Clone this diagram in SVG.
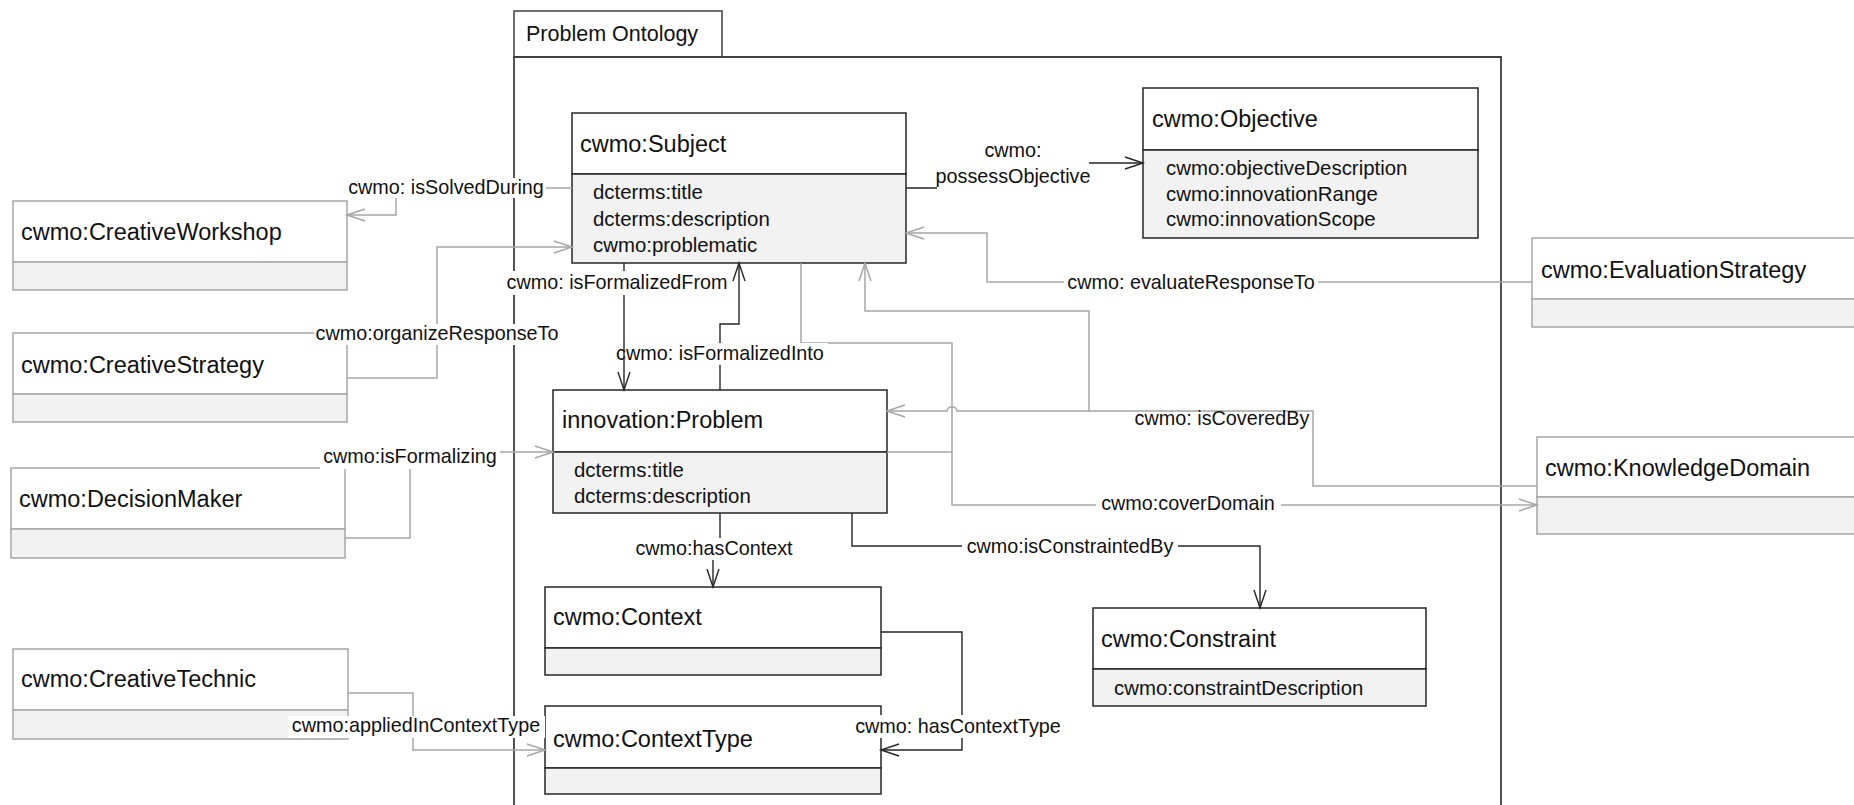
<svg xmlns="http://www.w3.org/2000/svg" width="1854" height="805" viewBox="0 0 1854 805">
<style>
text{font-family:"Liberation Sans",Arial,sans-serif;fill:#111}
.t{font-size:23.5px}
.a{font-size:20.4px}
.l{font-size:19.8px;text-anchor:middle}
.pk{font-size:21.5px}
.hd{fill:#fff}
.cp{fill:#f2f2f2}
.in rect,.in line{stroke:#262626;stroke-width:1.5}
.out rect,.out line{stroke:#a6a6a6;stroke-width:1.5}
.g{fill:none;stroke:#a6a6a6;stroke-width:1.5}
.k{fill:none;stroke:#262626;stroke-width:1.4}
.bg{fill:#fff;stroke:none}
</style>
<defs>
<marker id="ag" markerUnits="userSpaceOnUse" markerWidth="24" markerHeight="16" viewBox="-20 -8 24 16" refX="0" refY="0" orient="auto" overflow="visible">
<path d="M-18,-6 L0,0 L-18,6" fill="none" stroke="#a6a6a6" stroke-width="1.5"/>
</marker>
<marker id="ak" markerUnits="userSpaceOnUse" markerWidth="24" markerHeight="16" viewBox="-20 -8 24 16" refX="0" refY="0" orient="auto" overflow="visible">
<path d="M-18,-6 L0,0 L-18,6" fill="none" stroke="#262626" stroke-width="1.4"/>
</marker>
</defs>
<rect x="0" y="0" width="1854" height="805" fill="#fff"/>

<g id="package">
<rect x="514" y="11" width="208" height="46" fill="#fff" stroke="#404040" stroke-width="1.5"/>
<path d="M514,810 V57 H1501 V810" fill="none" stroke="#404040" stroke-width="1.8"/>
<text class="pk" x="526" y="41">Problem Ontology</text>
</g>

<g id="node-subject" class="in">
<rect class="hd" x="572" y="113" width="334" height="61"/>
<rect class="cp" x="572" y="174" width="334" height="89"/>
<text class="t" x="580" y="152">cwmo:Subject</text>
<text class="a" x="593" y="199">dcterms:title</text>
<text class="a" x="593" y="225.5">dcterms:description</text>
<text class="a" x="593" y="251.5">cwmo:problematic</text>
</g>

<g id="node-objective" class="in">
<rect class="hd" x="1143" y="88" width="335" height="62"/>
<rect class="cp" x="1143" y="150" width="335" height="88"/>
<text class="t" x="1152" y="127">cwmo:Objective</text>
<text class="a" x="1166" y="175">cwmo:objectiveDescription</text>
<text class="a" x="1166" y="200.5">cwmo:innovationRange</text>
<text class="a" x="1166" y="226">cwmo:innovationScope</text>
</g>

<g id="node-problem" class="in">
<rect class="hd" x="553" y="390" width="334" height="62"/>
<rect class="cp" x="553" y="452" width="334" height="61"/>
<text class="t" x="562" y="428">innovation:Problem</text>
<text class="a" x="574" y="476.5">dcterms:title</text>
<text class="a" x="574" y="502.5">dcterms:description</text>
</g>

<g id="node-context" class="in">
<rect class="hd" x="545" y="587" width="336" height="61"/>
<rect class="cp" x="545" y="648" width="336" height="27"/>
<text class="t" x="553" y="625">cwmo:Context</text>
</g>

<g id="node-contexttype" class="in">
<rect class="hd" x="545" y="706" width="336" height="62"/>
<rect class="cp" x="545" y="768" width="336" height="26"/>
<text class="t" x="553" y="747">cwmo:ContextType</text>
</g>

<g id="node-constraint" class="in">
<rect class="hd" x="1093" y="608" width="333" height="61"/>
<rect class="cp" x="1093" y="669" width="333" height="37"/>
<text class="t" x="1101" y="647">cwmo:Constraint</text>
<text class="a" x="1114" y="695">cwmo:constraintDescription</text>
</g>

<g id="node-creativeworkshop" class="out">
<rect class="hd" x="13" y="201" width="334" height="61"/>
<rect class="cp" x="13" y="262" width="334" height="28"/>
<text class="t" x="21" y="240">cwmo:CreativeWorkshop</text>
</g>

<g id="node-creativestrategy" class="out">
<rect class="hd" x="13" y="333" width="334" height="61"/>
<rect class="cp" x="13" y="394" width="334" height="28"/>
<text class="t" x="21" y="373">cwmo:CreativeStrategy</text>
</g>

<g id="node-decisionmaker" class="out">
<rect class="hd" x="11" y="468" width="334" height="61"/>
<rect class="cp" x="11" y="529" width="334" height="29"/>
<text class="t" x="19" y="507">cwmo:DecisionMaker</text>
</g>

<g id="node-creativetechnic" class="out">
<rect class="hd" x="13" y="649" width="335" height="61"/>
<rect class="cp" x="13" y="710" width="335" height="29"/>
<text class="t" x="21" y="687">cwmo:CreativeTechnic</text>
</g>

<g id="node-evaluationstrategy" class="out">
<rect class="hd" x="1532" y="238" width="340" height="61"/>
<rect class="cp" x="1532" y="299" width="340" height="28"/>
<text class="t" x="1541" y="278">cwmo:EvaluationStrategy</text>
</g>

<g id="node-knowledgedomain" class="out">
<rect class="hd" x="1537" y="437" width="340" height="60"/>
<rect class="cp" x="1537" y="497" width="340" height="37"/>
<text class="t" x="1545" y="476">cwmo:KnowledgeDomain</text>
</g>

<g id="connectors">
<path class="g" d="M572,188 H396 V215 H347" marker-end="url(#ag)"/>
<rect class="bg" x="346" y="178" width="200" height="20"/>
<text class="l" x="446" y="193.5">cwmo: isSolvedDuring</text>

<path class="g" d="M347,378 H437 V247 H572" marker-end="url(#ag)"/>
<rect class="bg" x="314" y="324" width="247" height="21"/>
<text class="l" x="437" y="340">cwmo:organizeResponseTo</text>

<path class="g" d="M345,538 H410 V452 H553" marker-end="url(#ag)"/>
<rect class="bg" x="320" y="448" width="180" height="21"/>
<text class="l" x="410" y="463">cwmo:isFormalizing</text>

<path class="g" d="M348,693 H413 V750 H545" marker-end="url(#ag)"/>
<rect class="bg" x="288" y="716" width="257" height="22"/>
<text class="l" x="416" y="732">cwmo:appliedInContextType</text>

<path class="g" d="M1532,282 H987 V233 H906" marker-end="url(#ag)"/>
<rect class="bg" x="1064" y="273" width="254" height="20"/>
<text class="l" x="1191" y="288.5">cwmo: evaluateResponseTo</text>

<path class="g" d="M801,263 V343 H952 V505 H1537" marker-end="url(#ag)"/>
<path class="g" d="M887,452 H952"/>
<rect class="bg" x="1096" y="495" width="185" height="20"/>
<text class="l" x="1188" y="510">cwmo:coverDomain</text>

<path class="g" d="M1537,486 H1313 V411 H957 A5,4 0 0 0 947,411 H887" marker-end="url(#ag)"/>
<path class="g" d="M1089,411 V311 H865 V263" marker-end="url(#ag)"/>
<text class="l" x="1222" y="425">cwmo: isCoveredBy</text>

<path class="k" d="M906,188 H1013 V163 H1143" marker-end="url(#ak)"/>
<rect class="bg" x="937" y="138" width="152" height="52"/>
<text class="l" x="1013" y="157">cwmo:</text>
<text class="l" x="1013" y="183.3">possessObjective</text>

<path class="k" d="M720,390 V324 H739 V263" marker-end="url(#ak)"/>
<rect class="bg" x="612" y="343" width="216" height="22"/>
<text class="l" x="720" y="360">cwmo: isFormalizedInto</text>

<path class="k" d="M624,263 V390" marker-end="url(#ak)"/>
<rect class="bg" x="504" y="271" width="227" height="24"/>
<text class="l" x="617" y="288.5">cwmo: isFormalizedFrom</text>

<path class="k" d="M720,513 V549 H713 V587" marker-end="url(#ak)"/>
<rect class="bg" x="631" y="538" width="166" height="22"/>
<text class="l" x="714" y="555">cwmo:hasContext</text>

<path class="k" d="M852,513 V546 H1260 V608" marker-end="url(#ak)"/>
<rect class="bg" x="962" y="537" width="216" height="21"/>
<text class="l" x="1070" y="553">cwmo:isConstraintedBy</text>

<path class="k" d="M881,632 H962 V750 H881" marker-end="url(#ak)"/>
<rect class="bg" x="853" y="715" width="210" height="23"/>
<text class="l" x="958" y="733">cwmo: hasContextType</text>
</g>
</svg>
